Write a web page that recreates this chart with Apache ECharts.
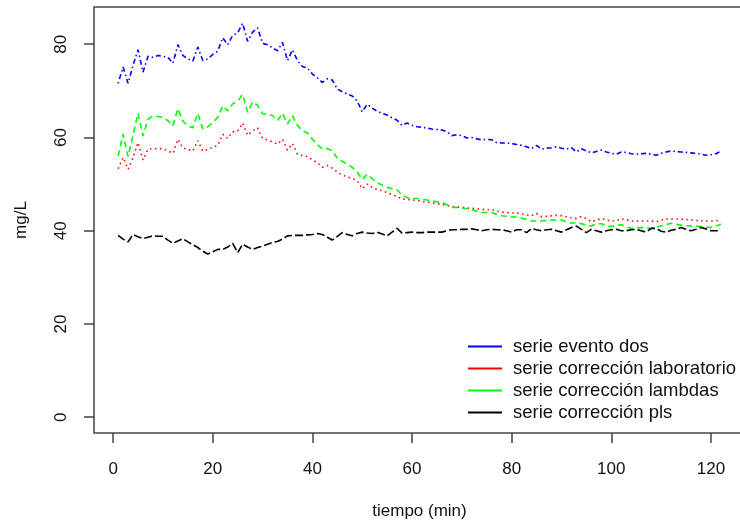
<!DOCTYPE html>
<html>
<head>
<meta charset="utf-8">
<script src="https://cdn.jsdelivr.net/npm/echarts@6/dist/echarts.min.js"></script>
<style>
html,body{margin:0;padding:0;background:#fff;overflow:hidden;}
#chart{width:740px;height:523px;}
</style>
</head>
<body>
<div id="chart"></div>
<script>
const tiempo = [1,2,3,4,5,6,7,8,9,10,11,12,13,14,15,16,17,18,19,20,21,22,23,24,25,26,27,28,29,30,31,32,33,34,35,36,37,38,39,40,41,42,43,44,45,46,47,48,49,50,51,52,53,54,55,56,57,58,59,60,61,62,63,64,65,66,67,68,69,70,71,72,73,74,75,76,77,78,79,80,81,82,83,84,85,86,87,88,89,90,91,92,93,94,95,96,97,98,99,100,101,102,103,104,105,106,107,108,109,110,111,112,113,114,115,116,117,118,119,120,121,122];

const serieEventoDos = [71.6,75.1,71.6,75.5,78.8,74.0,77.4,77.2,77.6,77.4,77.2,75.9,79.9,77.6,76.8,76.4,79.4,76.5,76.8,77.8,78.5,81.4,79.9,81.9,82.4,84.5,80.6,82.6,83.5,80.2,79.9,79.2,78.6,80.4,76.5,78.8,76.5,75.2,74.9,73.6,72.8,71.8,72.6,72.3,70.4,69.8,69.3,68.9,67.8,65.5,67.1,66.3,65.6,65.2,64.8,64.2,63.7,62.6,63.1,62.6,62.3,62.2,62.0,61.8,61.7,61.6,61.2,60.4,60.6,60.4,59.9,60.0,59.7,59.5,59.6,59.5,58.9,58.8,58.8,58.7,58.5,58.3,58.0,57.6,58.3,57.5,57.7,57.8,58.0,57.7,57.5,57.8,56.9,57.6,57.1,56.7,57.0,57.3,56.9,56.6,56.4,56.9,56.8,56.5,56.4,56.5,56.6,56.4,56.2,56.6,56.9,57.1,57.0,56.9,56.8,56.7,56.6,56.4,56.2,56.3,56.5,57.1];

const serieCorrLaboratorio = [53.3,55.7,53.2,55.7,58.9,55.2,57.5,57.6,57.6,57.6,57.1,56.6,59.6,57.8,57.4,57.1,59.3,57.1,57.4,57.9,58.3,60.7,59.8,61.2,61.4,63.1,60.5,61.4,62.1,59.8,59.5,59.0,58.6,59.6,57.3,58.7,56.4,56.1,55.9,55.2,54.6,53.6,54.0,53.4,52.6,51.9,51.6,51.2,50.7,49.0,50.0,49.3,48.8,48.6,48.2,47.7,47.3,46.8,46.7,46.6,46.5,46.3,46.1,46.0,45.8,45.6,45.4,45.2,45.1,45.0,44.9,44.8,44.7,44.6,44.5,44.5,44.2,44.0,43.9,43.8,43.8,43.6,43.4,43.2,43.7,43.0,43.1,43.2,43.3,43.2,43.0,42.8,42.6,43.0,42.6,41.9,42.3,42.6,42.3,42.1,42.1,42.6,42.3,42.1,42.1,42.1,42.1,42.1,41.9,42.3,42.5,42.5,42.5,42.5,42.4,42.3,42.2,42.1,42.1,42.1,42.1,42.5];

const serieCorrLambdas = [56.0,60.7,55.9,60.5,65.2,60.3,63.9,64.6,64.5,64.3,63.6,62.5,66.2,63.5,62.5,62.1,65.2,61.8,62.3,63.2,64.3,66.8,65.7,67.2,67.8,69.2,65.4,67.6,66.9,65.1,64.9,64.7,63.6,65.2,62.9,64.7,62.6,61.4,61.0,59.6,58.5,57.5,57.6,57.2,55.5,54.9,54.3,53.6,52.6,51.0,52.1,51.2,50.3,49.8,49.3,49.0,48.8,47.6,47.1,46.9,46.9,46.8,46.6,46.4,46.2,46.0,45.6,45.0,45.0,44.9,44.7,44.5,44.2,43.9,43.9,43.9,43.5,43.2,43.1,43.0,42.9,42.7,42.4,42.1,42.1,42.1,42.2,42.3,42.3,42.3,41.9,41.6,41.8,41.5,41.2,41.0,41.5,41.5,41.1,40.9,41.2,41.3,40.8,40.5,40.6,40.7,40.6,40.5,40.8,41.0,41.3,41.6,41.4,41.2,41.1,41.0,41.0,40.9,40.8,40.7,41.0,41.4];

const serieCorrPls = [39.0,38.2,37.6,39.2,38.7,38.3,38.6,38.9,38.8,38.8,38.0,37.3,37.8,38.3,37.6,37.0,36.4,35.6,35.0,35.5,36.0,36.0,36.5,37.3,35.3,37.1,36.5,36.0,36.4,36.7,37.1,37.5,37.7,38.2,38.9,39.0,39.0,39.0,39.1,39.2,39.4,39.2,38.6,38.0,38.8,39.6,39.2,38.9,39.4,39.7,39.5,39.4,39.7,39.3,38.9,39.7,40.5,39.5,39.6,39.7,39.6,39.6,39.7,39.7,39.7,39.7,40.0,40.2,40.2,40.3,40.3,40.4,40.2,40.0,40.2,40.3,40.2,40.2,40.0,39.7,40.2,40.2,39.6,40.5,40.2,40.0,40.2,40.3,40.0,39.7,40.2,40.7,41.0,40.3,39.6,40.3,40.0,39.7,40.0,40.2,40.3,40.0,40.0,40.2,40.3,40.0,39.7,40.5,40.5,39.9,39.7,40.1,40.3,40.7,40.3,40.0,40.3,40.7,40.4,40.0,40.0,40.0];

const xTicks = [0,20,40,60,80,100,120];
const yTicks = [0,20,40,60,80];
const seriesNames = ['serie evento dos','serie corrección laboratorio','serie corrección lambdas','serie corrección pls'];

const FONT = 'Liberation Sans, Arial, sans-serif';
const pair = (vals) => tiempo.map((t, i) => [t, vals[i]]);

const chart = echarts.init(document.getElementById('chart'), null, {renderer: 'canvas'});

function mkSeries(name, vals, color, dash) {
  return {
    name: name, type: 'line', data: pair(vals),
    showSymbol: false, symbol: 'none', smooth: false,
    lineStyle: {color: color, width: 1.6, type: dash},
    itemStyle: {color: color},
    animation: false, silent: true
  };
}

chart.setOption({
  animation: false,
  backgroundColor: '#ffffff',
  grid: {left: 94, top: 7, width: 651, height: 426, show: true, borderColor: '#444', borderWidth: 1.5,
         containLabel: false, outerBoundsMode: 'none'},
  xAxis: {
    type: 'value', min: -3.84, max: 126.84,
    name: 'tiempo (min)', nameLocation: 'middle', nameGap: 70,
    nameTextStyle: {fontFamily: FONT, fontSize: 17, color: '#111'},
    axisLine: {show: false, onZero: false},
    splitLine: {show: false},
    axisTick: {show: true, length: 10, inside: false, customValues: xTicks, lineStyle: {color: '#444', width: 1.5}},
    axisLabel: {show: true, customValues: xTicks, margin: 28, fontFamily: FONT, fontSize: 17, color: '#111'}
  },
  yAxis: {
    type: 'value', min: -3.38, max: 87.98,
    name: 'mg/L', nameLocation: 'middle', nameGap: 64, nameRotate: 90,
    nameTextStyle: {fontFamily: FONT, fontSize: 17, color: '#111'},
    axisLine: {show: false, onZero: false},
    splitLine: {show: false},
    axisTick: {show: true, length: 10, inside: false, customValues: yTicks, lineStyle: {color: '#444', width: 1.5}},
    axisLabel: {show: true, customValues: yTicks, rotate: 90, margin: 24, fontFamily: FONT, fontSize: 17, color: '#111'}
  },
  legend: {
    show: true, orient: 'vertical', left: 463, top: 332,
    icon: 'rect', itemWidth: 34, itemHeight: 2, itemGap: 3,
    data: seriesNames,
    textStyle: {fontFamily: FONT, fontSize: 18.5, color: '#111', padding: [0, 0, 0, 6]}
  },
  series: [
    mkSeries(seriesNames[0], serieEventoDos, '#0000ff', [1.5, 3, 5, 3]),
    mkSeries(seriesNames[1], serieCorrLaboratorio, '#ff0000', [1.5, 3.5]),
    mkSeries(seriesNames[2], serieCorrLambdas, '#00ff00', [6, 4]),
    mkSeries(seriesNames[3], serieCorrPls, '#000000', [8, 3])
  ]
});
</script>
</body>
</html>
